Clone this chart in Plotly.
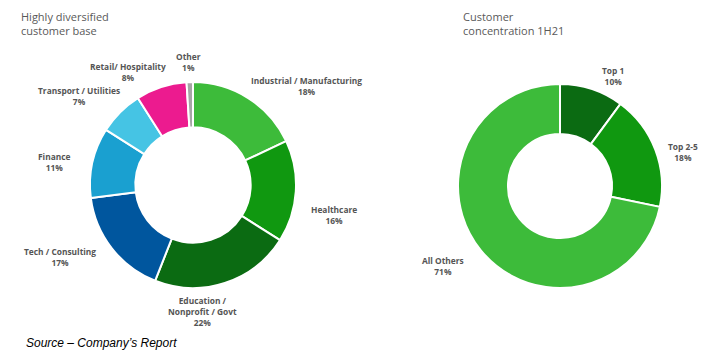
import plotly.graph_objects as go

# ---- data ----
sector_labels = ["Industrial / Manufacturing", "Healthcare", "Education /<br>Nonprofit / Govt",
                 "Tech / Consulting", "Finance", "Transport / Utilities", "Retail/ Hospitality", "Other"]
sector_values = [18, 16, 22, 17, 11, 7, 8, 1]
sector_colors = ["#3dbb3a", "#109810", "#0b6b12", "#00569e", "#1aa0d0", "#45c4e4", "#ec1b8f", "#a6a6a6"]

conc_labels = ["Top 1", "Top 2-5", "All Others"]
conc_values = [10, 18, 71]
conc_colors = ["#0b6b12", "#109810", "#3dbb3a"]

# layout: page body has an 8px margin, so the figure is drawn 8px in from the window edge
OFF = 8
W, H = 724 - OFF, 357 - OFF
def px_x(x):
    return (x - OFF) / W
def px_y(y):
    return 1 - (y - OFF) / H

# label anchor positions (window pixels, layout only)
sector_label_xy = [(306, 86), (334, 215), (202, 311), (60, 257), (54, 162), (79, 96), (128, 72), (188, 62)]
conc_label_xy = [(613, 76), (683, 152), (443, 266)]

fig = go.Figure()
fig.add_trace(go.Pie(
    labels=sector_labels, values=sector_values, sort=False, direction="clockwise", rotation=0,
    hole=0.56, marker=dict(colors=sector_colors, line=dict(color="white", width=2)),
    textinfo="none", hoverinfo="label+percent", showlegend=False,
    domain=dict(x=[px_x(90), px_x(296)], y=[px_y(288), px_y(82)]),
))
fig.add_trace(go.Pie(
    labels=conc_labels, values=conc_values, sort=False, direction="clockwise", rotation=0,
    hole=0.51, marker=dict(colors=conc_colors, line=dict(color="white", width=2)),
    textinfo="none", hoverinfo="label+percent", showlegend=False,
    domain=dict(x=[px_x(458), px_x(662)], y=[px_y(288), px_y(84)]),
))

annotations = []
def add_labels(labels, values, xys):
    total = sum(values)
    for lab, v, (lx, ly) in zip(labels, values, xys):
        pct = v if total == 100 else round(100 * v / total)
        if lab == "All Others":
            pct = v
        annotations.append(dict(
            x=px_x(lx), y=px_y(ly), xref="paper", yref="paper",
            text=f"<b>{lab}<br>{pct}%</b>", showarrow=False, xanchor="center", yanchor="middle",
            align="center", font=dict(family="Open Sans", size=8.4, color="#555555"),
        ))

add_labels(sector_labels, sector_values, sector_label_xy)
add_labels(conc_labels, conc_values, conc_label_xy)

annotations.append(dict(x=px_x(19), y=px_y(7), xref="paper", yref="paper", xanchor="left", yanchor="top",
                        align="left", showarrow=False, text="Highly diversified<br>customer base",
                        font=dict(family="Open Sans", size=11, color="#595959")))
annotations.append(dict(x=px_x(461), y=px_y(7), xref="paper", yref="paper", xanchor="left", yanchor="top",
                        align="left", showarrow=False, text="Customer<br>concentration 1H21",
                        font=dict(family="Open Sans", size=11, color="#595959")))
annotations.append(dict(x=px_x(24), y=px_y(343), xref="paper", yref="paper", xanchor="left", yanchor="middle",
                        align="left", showarrow=False, text="<i>Source – Company’s Report</i>",
                        font=dict(family="Liberation Sans", size=12, color="#000000")))

fig.update_layout(
    width=W, height=H, margin=dict(l=0, r=0, t=0, b=0),
    paper_bgcolor="white", plot_bgcolor="white", annotations=annotations,
)
fig.write_html("out.html")
